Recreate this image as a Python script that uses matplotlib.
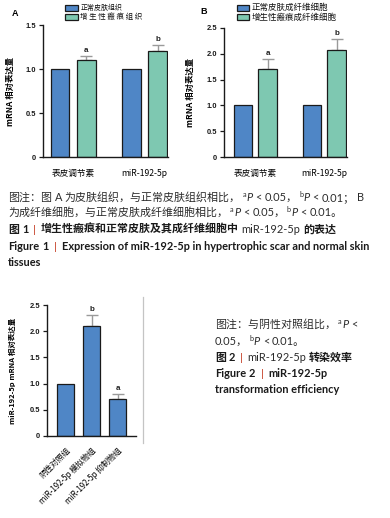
import matplotlib
matplotlib.use("Agg")
import matplotlib.pyplot as plt
from matplotlib.lines import Line2D
from matplotlib.patches import Rectangle
import numpy as np

W, H = 390, 518
DPI = 100

# ---------------- data ----------------
groups_ab = ["表皮调节素", "miR-192-5p"]
a_normal = [1.0, 1.0]
a_scar = [1.1, 1.2]
a_scar_err = [0.05, 0.07]
a_letters = ["a", "b"]
a_labels = ["正常皮肤组织", "增 生 性 瘢 痕 组 织"]

b_normal = [1.0, 1.0]
b_scar = [1.70, 2.08]
b_scar_err = [0.20, 0.21]
b_letters = ["a", "b"]
b_labels = ["正常皮肤成纤维细胞", "增生性瘢痕成纤维细胞"]

c_groups = ["阴性对照组", "miR-192-5p 模拟物组", "miR-192-5p 抑制物组"]
c_values = [1.0, 2.09, 0.70]
c_err = [0.0, 0.22, 0.11]
c_letters = ["", "b", "a"]

BLUE = "#4f86c6"
GREEN = "#7ec8b1"
EDGE = "#1a1a1a"
ERRC = "#9a9a9a"

CJK = ["Noto Sans CJK SC", "DejaVu Sans"]
NUM = ["Liberation Sans", "Noto Sans CJK SC", "DejaVu Sans"]
CAP = ["Lato", "Noto Sans CJK SC", "DejaVu Sans"]

plt.rcParams["font.family"] = CJK
plt.rcParams["axes.unicode_minus"] = False

fig = plt.figure(figsize=(W / DPI, H / DPI), dpi=DPI)
fig.patch.set_facecolor("white")


def px_rect(x0, y0, x1, y1):
    return [x0 / W, 1 - y1 / H, (x1 - x0) / W, (y1 - y0) / H]


def style_axis(ax, ymax, ystep):
    for s in ["top", "right"]:
        ax.spines[s].set_visible(False)
    for s in ["left", "bottom"]:
        ax.spines[s].set_linewidth(1.0)
        ax.spines[s].set_color(EDGE)
    ax.set_ylim(0, ymax)
    ticks = np.arange(0, ymax + 1e-9, ystep)
    ax.set_yticks(ticks)
    ax.set_yticklabels(["0" if t == 0 else f"{t:.1f}" for t in ticks],
                       fontsize=5.4, fontweight="bold", family=NUM)
    ax.tick_params(axis="y", length=3, width=0.9, pad=2, colors=EDGE)
    ax.tick_params(axis="x", length=0, pad=8.5)


def manual_legend(x, labels, sizes, pw):
    rows = [(5.0, 10.5), (14.2, 19.8)]
    for (y0, y1), lab, col, fs in zip(rows, labels, [BLUE, GREEN], sizes):
        fig.add_artist(Rectangle((x / W, 1 - y1 / H), pw / W, (y1 - y0) / H,
                                 transform=fig.transFigure, facecolor=col,
                                 edgecolor=EDGE, linewidth=0.9))
        fig.text((x + pw + 2.5) / W, 1 - (y0 + y1) / 2 / H, lab, fontsize=fs,
                 ha="left", va="center", color="#111")


def grouped(ax, normal, scar, err, letters, xlim, off, wid, ymax, step,
            ylabel, letter_dy, label_x):
    x = np.arange(len(normal))
    ax.bar(x - off, normal, wid, color=BLUE, edgecolor=EDGE, linewidth=0.9,
           zorder=2)
    ax.bar(x + off, scar, wid, color=GREEN, edgecolor=EDGE, linewidth=0.9,
           zorder=2)
    ax.errorbar(x + off, scar, yerr=[np.zeros(len(err)), err], fmt="none",
                ecolor=ERRC, elinewidth=1.0, capsize=4, capthick=1.0, zorder=1)
    for xi, v, e, L in zip(x, scar, err, letters):
        ax.text(xi + off, v + e + letter_dy, L, ha="center", va="bottom",
                fontsize=5.8, fontweight="bold", family=NUM, color="#222")
    ax.set_xlim(*xlim)
    style_axis(ax, ymax, step)
    ax.set_xticks(x)
    ax.set_xticklabels(groups_ab, fontsize=6.2)
    ax.set_ylabel(ylabel, fontsize=6, fontweight="bold")
    ax.yaxis.set_label_coords(label_x, 0.5)


# ---------------- Panel A ----------------
axA = fig.add_axes(px_rect(43, 25, 168, 157))
grouped(axA, a_normal, a_scar, a_scar_err, a_letters,
        (-0.42, 1.33), 0.185, 0.26, 1.5, 0.5, "mRNA 相对表达量", 0.02,
        (15 - 43) / 125)
manual_legend(65, a_labels, [5.0, 5.4], 13)
fig.text(12 / W, 1 - 13 / H, "A", fontsize=6.5, fontweight="bold", family=NUM,
         ha="left", va="center")

# ---------------- Panel B ----------------
axB = fig.add_axes(px_rect(224, 28, 347, 157))
grouped(axB, b_normal, b_scar, b_scar_err, b_letters,
        (-0.453, 1.33), 0.18, 0.27, 2.5, 0.5, "mRNA 相对表达量", 0.04,
        (195 - 224) / 123)
manual_legend(237, b_labels, [6.1, 6.1], 12)
fig.text(200 / W, 1 - 12 / H, "B", fontsize=6.5, fontweight="bold", family=NUM,
         ha="left", va="center")

# ---------------- Panel C (Figure 2) ----------------
axC = fig.add_axes(px_rect(47, 305, 136, 436))
xc = np.arange(len(c_values))
axC.bar(xc, c_values, 0.65, color=BLUE, edgecolor=EDGE, linewidth=0.9, zorder=2)
axC.errorbar(xc[1:], c_values[1:], yerr=[np.zeros(2), c_err[1:]], fmt="none",
             ecolor=ERRC, elinewidth=1.0, capsize=4, capthick=1.0, zorder=1)
for xi, v, e, L in zip(xc, c_values, c_err, c_letters):
    if L:
        axC.text(xi, v + e + 0.03, L, ha="center", va="bottom", fontsize=5.8,
                 fontweight="bold", family=NUM, color="#222")
axC.set_xlim(-0.71, 2.71)
style_axis(axC, 2.5, 0.5)
axC.set_xticks(xc)
axC.set_xticklabels(c_groups, fontsize=5.7, rotation=45, ha="right",
                    rotation_mode="anchor")
axC.tick_params(axis="x", length=0, pad=7)
axC.set_ylabel("miR-192-5p mRNA 相对表达量", fontsize=5.4, fontweight="bold")
axC.yaxis.set_label_coords((16 - 47) / 89, 0.5)

fig.add_artist(Line2D([143 / W, 143 / W], [1 - 297 / H, 1 - 443 / H],
                      transform=fig.transFigure, color="#c4c4c4", lw=0.9))

# ---------------- captions ----------------
renderer = fig.canvas.get_renderer()
FS = 7.9
SUPFS = 5.2


def draw_runs(x, y, parts):
    cx = x
    for part in parts:
        text, kind = part[0], part[1]
        gap = part[2] if len(part) > 2 else 0.0
        kw = dict(family=CAP, fontsize=FS, color="#2b2b2b", va="baseline",
                  ha="left")
        yy = y
        if kind == "b":
            kw["fontweight"] = "bold"
            kw["color"] = "#1a1a1a"
        elif kind == "i":
            kw["fontstyle"] = "italic"
        elif kind == "sup":
            kw["fontsize"] = SUPFS
            yy = y - 3.8
        elif kind == "bar":
            kw["color"] = "#c8462e"
            kw["family"] = NUM
        t = fig.text(cx / W, 1 - yy / H, text, **kw)
        bb = t.get_window_extent(renderer)
        cx += bb.width + gap


SP = 2.8  # approx width of a space in px

# Figure 1 caption
draw_runs(8, 201, [("图注：图", "n", 2.5), ("A", "n", 2.5),
                   ("为皮肤组织，与正常皮肤组织相比，", "n", 2.2),
                   ("a", "sup", 0.3), ("P", "i", SP), ("<", "n", SP),
                   ("0.05，", "n", 1.5), ("b", "sup", 0.3), ("P", "i", SP),
                   ("<", "n", SP), ("0.01；", "n", 2.2), ("B", "n")])
draw_runs(8, 216, [("为成纤维细胞，与正常皮肤成纤维细胞相比，", "n", 2.2),
                   ("a", "sup", 0.3), ("P", "i", SP), ("<", "n", SP),
                   ("0.05，", "n", 1.5), ("b", "sup", 0.3), ("P", "i", SP),
                   ("<", "n", SP), ("0.01。", "n")])
draw_runs(8, 233, [("图", "b", 2.9), ("1", "b", 4.6), ("|", "bar", 4.6),
                   ("增生性瘢痕和正常皮肤及其成纤维细胞中", "b", 2.9),
                   ("miR-192-5p", "n", 2.9), ("的表达", "b")])
draw_runs(8, 250, [("Figure", "b", SP), ("1", "b", 5.2), ("|", "bar", 5.2),
                   ("Expression of miR-192-5p in hypertrophic scar and normal skin", "b")])
draw_runs(8, 266, [("tissues", "b")])

# Figure 2 caption
draw_runs(215, 328, [("图注：与阴性对照组比，", "n", 2.2), ("a", "sup", 0.3),
                     ("P", "i", SP), ("<", "n")])
draw_runs(215, 345, [("0.05，", "n", 1.5), ("b", "sup", 0.3), ("P", "i", SP),
                     ("<", "n", SP), ("0.01。", "n")])
draw_runs(215, 361, [("图", "b", 2.9), ("2", "b", 4.6), ("|", "bar", 4.6),
                     ("miR-192-5p", "n", 2.9), ("转染效率", "b")])
draw_runs(215, 377, [("Figure", "b", SP), ("2", "b", 5.2), ("|", "bar", 5.2),
                     ("miR-192-5p", "b")])
draw_runs(215, 393, [("transformation efficiency", "b")])

fig.savefig("out.png", dpi=DPI, facecolor="white")
